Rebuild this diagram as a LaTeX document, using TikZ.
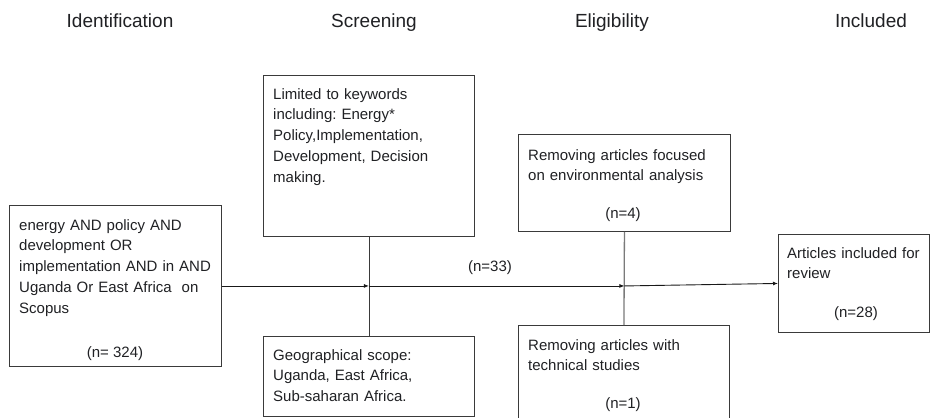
\documentclass[tikz,border=0pt]{standalone}
\usepackage{fontspec}
\setmainfont{Liberation Sans}
\usetikzlibrary{arrows.meta}
\definecolor{ink}{HTML}{202124}
\definecolor{edge}{HTML}{3A3A3A}
\definecolor{softedge}{HTML}{7A7A7A}
\frenchspacing
\begin{document}
\begin{tikzpicture}[x=1pt,y=-1pt,
  stagebox/.style={draw=edge,line width=0.9pt,rectangle,inner sep=0pt,anchor=north west},
  boxtext/.style={inner sep=0pt,anchor=base west,align=left,text=ink,
    font=\fontsize{15}{20.8}\selectfont},
  count/.style={inner sep=0pt,anchor=base,text=ink,font=\fontsize{15}{20.8}\selectfont},
  heading/.style={inner sep=0pt,anchor=base,text=ink,font=\fontsize{19}{23}\selectfont},
  link/.style={draw=edge,line width=0.9pt},
  softlink/.style={draw=softedge,line width=1.3pt},
  flow/.style={draw=black!90,line width=0.9pt,-{Latex[length=5pt,width=4pt]}}]
\useasboundingbox (0,0) rectangle (930,418);
\clip (0,0) rectangle (930,418);
\fill[white] (0,0) rectangle (930,418);

% stage headings
\node[heading] (hident) at (120,27) {Identification};
\node[heading] (hscreen) at (374,27) {Screening};
\node[heading] (helig) at (612,27) {Eligibility};
\node[heading] (hincl) at (871,27) {Included};

% boxes
\node[stagebox,minimum width=212pt,minimum height=161pt] (ident) at (9,205) {};
\node[stagebox,minimum width=211pt,minimum height=161pt] (scrA) at (263,75) {};
\node[stagebox,minimum width=211pt,minimum height=80pt] (scrB) at (263,336) {};
\node[stagebox,minimum width=212pt,minimum height=97pt] (eligA) at (518,134) {};
\node[stagebox,minimum width=211pt,minimum height=115pt] (eligB) at (518,325) {};
\node[stagebox,minimum width=151pt,minimum height=98pt] (incl) at (778,234) {};

% box texts
\node[boxtext,text width=205pt] (identtxt) at (19,230)
  {energy AND policy AND\\development OR\\implementation AND in AND\\Uganda Or East Africa\ \ on\\Scopus};
\node[count] (identn) at (115,357) {(n= 324)};

\node[boxtext,text width=198pt] (scrAtxt) at (273,99)
  {Limited to keywords\\including: Energy*\\Policy,Implementation,\\Development, Decision\\making.};

\node[boxtext,text width=198pt] (scrBtxt) at (273,360)
  {Geographical scope:\\Uganda, East Africa,\\Sub-saharan Africa.};

\node[boxtext,text width=198pt,font=\fontsize{15}{20}\selectfont] (eligAtxt) at (528,160)
  {Removing articles focused\\on environmental analysis};
\node[count] (eligAn) at (623,218) {(n=4)};

\node[boxtext,text width=198pt,font=\fontsize{15}{20}\selectfont] (eligBtxt) at (528,350)
  {Removing articles with\\technical studies};
\node[count] (eligBn) at (623,408) {(n=1)};

\node[boxtext,text width=140pt] (incltxt) at (787,258)
  {Articles included for\\review};
\node[count] (incln) at (856,317) {(n=28)};

\node[count] (midn) at (490,271.5) {(n=33)};

% connectors
\coordinate (j1) at (scrA.south |- ident.east);
\coordinate (j2) at (eligA.south |- ident.east);
\draw[link] (scrA.south) -- (scrB.north);
\draw[softlink] (eligA.south) -- (eligB.north);
\draw[flow] (ident.east) -- (j1);
\draw[flow] (j1) -- (j2);
\draw[flow] (j2) -- (incl.west);
\end{tikzpicture}
\end{document}
